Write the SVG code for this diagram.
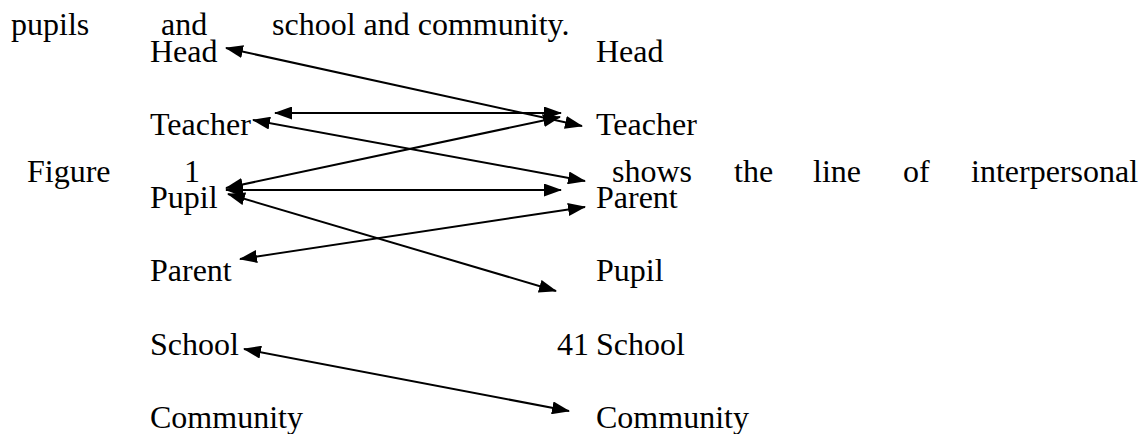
<svg xmlns="http://www.w3.org/2000/svg" width="1148" height="434" viewBox="0 0 1148 434">
  <style>
    text { font-size: 32px; fill: #000; }
    .link { stroke: #000; stroke-width: 2; fill: none; marker-start: url(#head); marker-end: url(#head); }
  </style>
  <defs>
    <marker id="head" viewBox="0 0 18 13" refX="17" refY="6.5" markerWidth="18" markerHeight="13" markerUnits="userSpaceOnUse" orient="auto-start-reverse">
      <path d="M0,0 L18,6.5 L0,13 z" fill="#000"/>
    </marker>
  </defs>
  <rect width="1148" height="434" fill="#fff"/>

  <g font-family="'Liberation Serif', 'Times New Roman', Times, 'DejaVu Serif', serif">
    <!-- surrounding body text -->
    <g id="body-text">
      <text x="11" y="35">pupils</text>
      <text x="161" y="35">and</text>
      <text x="272" y="35">school and community.</text>
      <text x="27" y="182">Figure</text>
      <text x="184" y="182">1</text>
      <text x="612" y="182">shows</text>
      <text x="734" y="182">the</text>
      <text x="813" y="182">line</text>
      <text x="903" y="182">of</text>
      <text x="971" y="182">interpersonal</text>
      <text x="557" y="355">41</text>
    </g>

    <!-- left column -->
    <g id="l-head"><text x="150" y="62">Head</text></g>
    <g id="l-teacher"><text x="150" y="135">Teacher</text></g>
    <g id="l-pupil"><text x="150" y="208">Pupil</text></g>
    <g id="l-parent"><text x="150" y="281">Parent</text></g>
    <g id="l-school"><text x="150" y="355">School</text></g>
    <g id="l-community"><text x="150" y="428">Community</text></g>

    <!-- right column -->
    <g id="r-head"><text x="596" y="62">Head</text></g>
    <g id="r-teacher"><text x="596" y="135">Teacher</text></g>
    <g id="r-parent"><text x="596" y="208">Parent</text></g>
    <g id="r-pupil"><text x="596" y="281">Pupil</text></g>
    <g id="r-school"><text x="596" y="355">School</text></g>
    <g id="r-community"><text x="596" y="428">Community</text></g>
  </g>

  <!-- two-way links -->
  <g id="connectors">
    <line class="link" x1="226" y1="48" x2="582" y2="126"/>
    <line class="link" x1="275" y1="113" x2="561" y2="113"/>
    <line class="link" x1="253" y1="120" x2="585" y2="181"/>
    <line class="link" x1="226" y1="188" x2="560" y2="117"/>
    <line class="link" x1="226" y1="190" x2="561" y2="190"/>
    <line class="link" x1="228" y1="194" x2="556" y2="291"/>
    <line class="link" x1="240" y1="259" x2="585" y2="207"/>
    <line class="link" x1="244" y1="349" x2="569" y2="411"/>
  </g>
</svg>
